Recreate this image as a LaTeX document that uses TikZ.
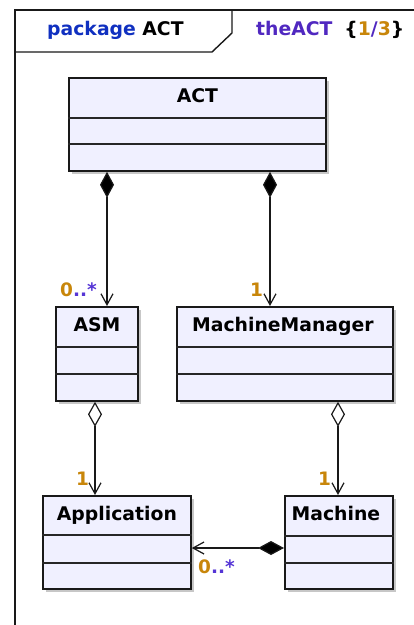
\documentclass[tikz,border=0pt]{standalone}
\usepackage{fontspec}
\setmainfont{DejaVu Sans}
\usetikzlibrary{arrows.meta,shadows,calc}
\definecolor{boxfill}{HTML}{F0F0FF}
\definecolor{multcol}{HTML}{C8860A}
\definecolor{starcol}{HTML}{5535D5}
\definecolor{pkgblue}{HTML}{1030C0}
\definecolor{thecol}{HTML}{5028C0}
\begin{document}
\begin{tikzpicture}[x=1pt,y=-1pt,
 umlbox/.style={draw=black!90, line width=1.8pt, fill=boxfill, rectangle, inner sep=0pt, anchor=north west,
   drop shadow={shadow xshift=3pt, shadow yshift=-3pt, fill=black!22, opacity=1}},
 divider/.style={line width=1.3pt, draw=black!85},
 boxtitle/.style={font=\fontsize{18.8}{22}\selectfont\bfseries, inner sep=0pt, anchor=base},
 multlabel/.style={font=\fontsize{18.5}{22}\selectfont\bfseries, inner sep=0pt, anchor=base west},
 hdr/.style={font=\fontsize{18.8}{22}\selectfont\bfseries, inner sep=0pt, anchor=base west},
 conn/.style={line width=1.2pt, draw=black!90},
 comp/.style={conn, {Diamond[length=26pt,width=14pt,fill=black]}-{Straight Barb[length=11pt,width=12pt]}},
 aggr/.style={conn, {Diamond[open,length=25pt,width=14pt,fill=white]}-{Straight Barb[length=11pt,width=12pt]}},
 frameline/.style={line width=1.4pt, draw=black!90},
]
\useasboundingbox (0,0) rectangle (414,625);

% frame
\draw[frameline] (15,625) -- (15,10) -- (414,10);
\draw[frameline] (15,52) -- (212,52) -- (232,33) -- (232,10);
\node[hdr] (pkg) at (47,35) {\textcolor{pkgblue}{package} ACT};
\node[hdr] (diag) at (256,35) {\textcolor{thecol}{theACT}\hspace{12pt}\{\textcolor{multcol}{1}\textcolor{thecol}{/}\textcolor{multcol}{3}\}};

% boxes
\node[umlbox, minimum width=257pt, minimum height=93pt] (act) at (68,77) {};
\node[umlbox, minimum width=82pt, minimum height=94pt] (asm) at (55,306) {};
\node[umlbox, minimum width=216pt, minimum height=94pt] (mm) at (176,306) {};
\node[umlbox, minimum width=148pt, minimum height=93pt] (app) at (42,495) {};
\node[umlbox, minimum width=108pt, minimum height=93pt] (mach) at (284,495) {};

% dividers
\foreach \b/\a/\c in {act/41/67, asm/41/68, mm/41/68, app/40/68, mach/41/68}{
  \draw[divider] ($(\b.north west)+(0,\a)$) -- ($(\b.north east)+(0,\a)$);
  \draw[divider] ($(\b.north west)+(0,\c)$) -- ($(\b.north east)+(0,\c)$);
}

% titles
\node[boxtitle] (actT) at ($(act.north)+(0,25)$) {ACT};
\node[boxtitle] (asmT) at ($(asm.north)+(0,25)$) {ASM};
\node[boxtitle] (mmT) at ($(mm.north)+(-2,25)$) {MachineManager};
\node[boxtitle] (appT) at ($(app.north)+(0,25)$) {Application};
\node[boxtitle] (machT) at ($(mach.north)+(-3,25)$) {Machine};

% connectors
\draw[comp] (107,0 |- act.south) -- (107,0 |- asm.north);
\draw[comp] (270,0 |- act.south) -- (270,0 |- mm.north);
\draw[aggr] (95,0 |- asm.south) -- (95,0 |- app.north);
\draw[aggr] (338,0 |- mm.south) -- (338,0 |- mach.north);
\draw[comp] (mach.west |- 0,548) -- (app.east |- 0,548);

% multiplicities
\node[multlabel] (m1) at (60,296) {\textcolor{multcol}{0}\textcolor{starcol}{..*}};
\node[multlabel] (m2) at (250,296) {\textcolor{multcol}{1}};
\node[multlabel] (m3) at (76,485) {\textcolor{multcol}{1}};
\node[multlabel] (m4) at (318,485) {\textcolor{multcol}{1}};
\node[multlabel] (m5) at (198,573) {\textcolor{multcol}{0}\textcolor{starcol}{..*}};
\end{tikzpicture}
\end{document}
